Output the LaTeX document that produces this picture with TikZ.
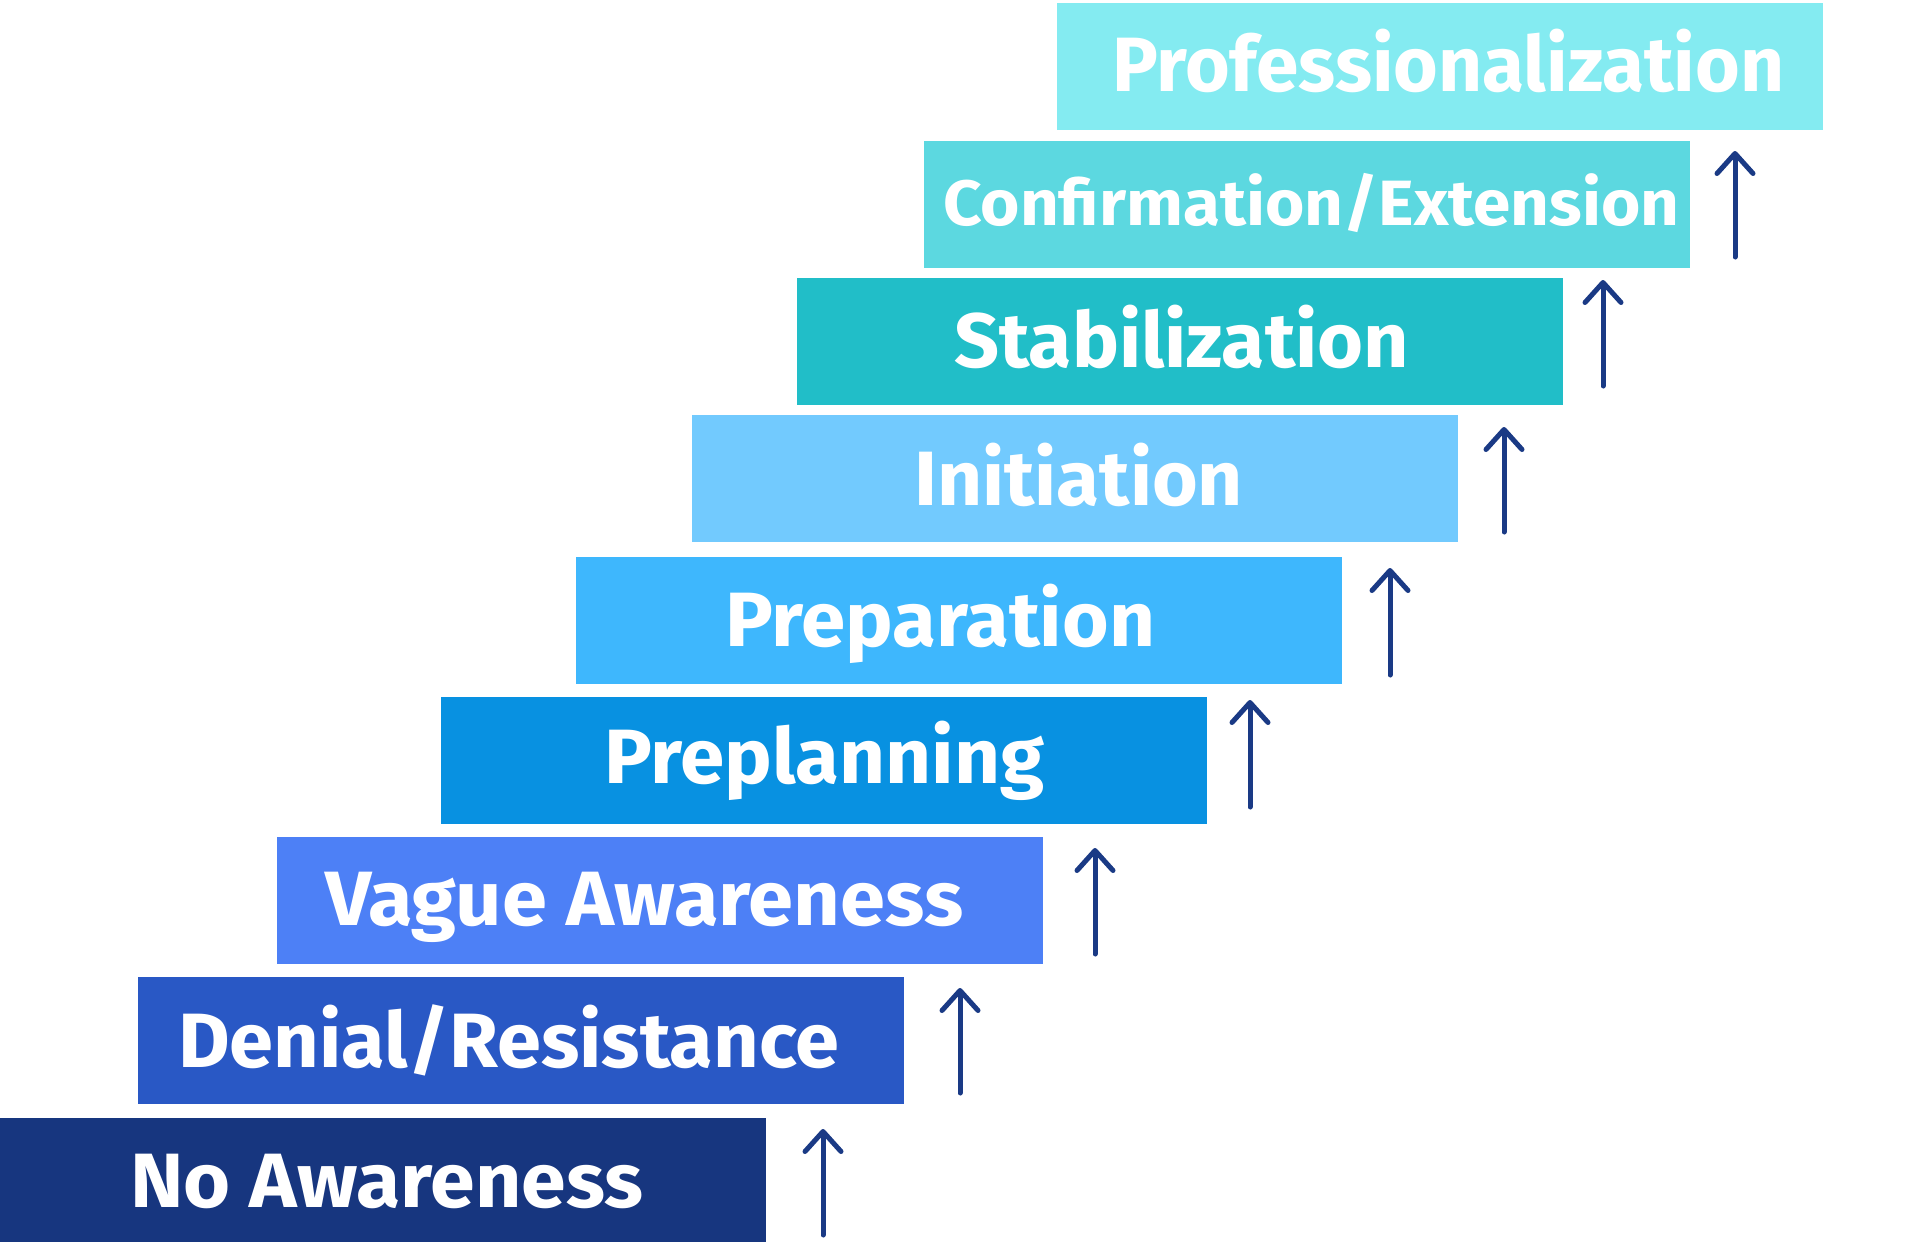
\documentclass[tikz,border=0pt]{standalone}
\usepackage{fontspec}
\usepackage{graphicx}
\newfontfamily\lblfont{Fira Sans}
\usetikzlibrary{arrows.meta}
\definecolor{cProf}{HTML}{84EBF1}
\definecolor{cConf}{HTML}{5CD8E0}
\definecolor{cStab}{HTML}{21BEC8}
\definecolor{cInit}{HTML}{72CAFE}
\definecolor{cPrep}{HTML}{3EB7FD}
\definecolor{cPlan}{HTML}{0891E1}
\definecolor{cVague}{HTML}{4D80F6}
\definecolor{cDeny}{HTML}{2958C5}
\definecolor{cNone}{HTML}{17367F}
\definecolor{arrowcol}{HTML}{1A3A85}
\newcommand{\fitw}[2]{\resizebox{#1}{\height}{#2}}
\tikzset{
  stepbox/.style={rectangle, draw=none, fill=#1, minimum width=766pt, minimum height=127pt, inner sep=0pt, anchor=north west},
  lbl/.style={text=white, inner sep=0pt, anchor=base west, font=\lblfont\bfseries\fontsize{77}{80}\selectfont},
  lblsmall/.style={lbl, font=\lblfont\bfseries\fontsize{64}{66}\selectfont},
  uparrow/.style={draw=arrowcol, line width=5pt, line cap=round, -{Straight Barb[length=20pt, width=36pt, round]}},
}
\begin{document}
\begin{tikzpicture}[x=1pt, y=-1pt]
\fill[white] (0,0) rectangle (1920,1242);
\useasboundingbox (0,0) rectangle (1920,1242);
% boxes
\node[stepbox=cProf]  (b1) at (1057,3) {};
\node[stepbox=cConf]  (b2) at (924,141) {};
\node[stepbox=cStab]  (b3) at (797,278) {};
\node[stepbox=cInit]  (b4) at (692,415) {};
\node[stepbox=cPrep]  (b5) at (576,557) {};
\node[stepbox=cPlan]  (b6) at (441,697) {};
\node[stepbox=cVague] (b7) at (277,837) {};
\node[stepbox=cDeny]  (b8) at (138,977) {};
\node[stepbox=cNone, minimum height=125pt] (b9) at (0,1118) {};
% labels
\node[lbl] (t1) at (1112,91.7) {\fitw{672pt}{Professionalization}};
\node[lblsmall] (t2) at (943,225.7) {\fitw{736pt}{Confirmation/Extension}};
\node[lbl] (t3) at (954,367.7) {\fitw{455pt}{Stabilization}};
\node[lbl] (t4) at (914,505.3) {\fitw{329pt}{Initiation}};
\node[lbl] (t5) at (725,646.7) {\fitw{430pt}{Preparation}};
\node[lbl] (t6) at (604,783) {\fitw{440pt}{Preplanning}};
\node[lbl] (t7) at (325,925.3) {\fitw{638pt}{Vague Awareness}};
\node[lbl] (t8) at (178,1067) {\fitw{661pt}{Denial/Resistance}};
\node[lbl] (t9) at (130,1207) {\fitw{513pt}{No Awareness}};
% arrows
\coordinate (a1s) at (823,1235); \coordinate (a1e) at (823,1129);
\coordinate (a2s) at (960,1093); \coordinate (a2e) at (960,988);
\coordinate (a3s) at (1095,954); \coordinate (a3e) at (1095,848);
\coordinate (a4s) at (1250,807); \coordinate (a4e) at (1250,700);
\coordinate (a5s) at (1390,675); \coordinate (a5e) at (1390,568);
\coordinate (a6s) at (1504,532); \coordinate (a6e) at (1504,427);
\coordinate (a7s) at (1603,386); \coordinate (a7e) at (1603,280);
\coordinate (a8s) at (1735,257); \coordinate (a8e) at (1735,151);
\foreach \i in {1,...,8} {\draw[uparrow] (a\i s) -- (a\i e);}
\end{tikzpicture}
\end{document}
